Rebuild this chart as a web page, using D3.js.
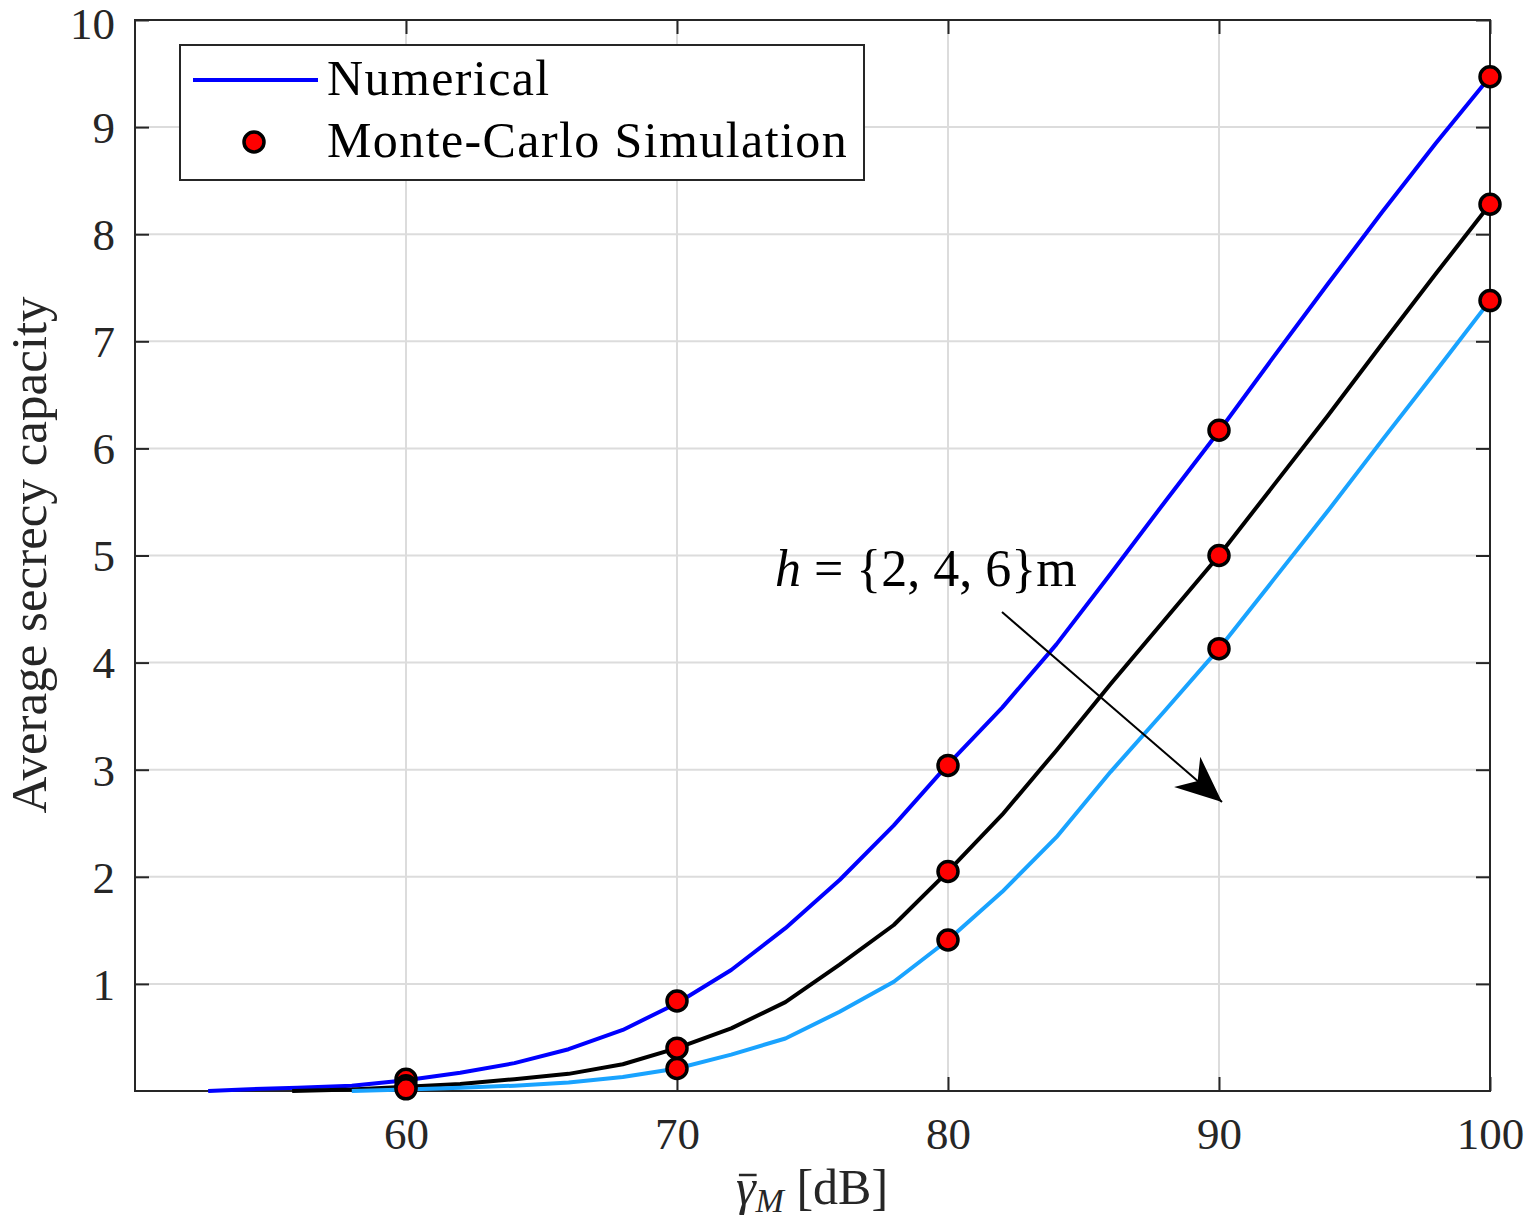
<!DOCTYPE html>
<html lang="en">
<head>
<meta charset="UTF-8" />
<script src="https://d3js.org/d3.v7.min.js"></script>
<title>Average secrecy capacity</title>
<style>
  body { margin: 0; background: #fff; }
  text { font-family: "Liberation Serif", "DejaVu Serif", serif; fill: #262626; }
</style>
</head>
<body>
<script>
  const width = 1526, height = 1228

  // numerical curves (x in dB, y = capacity)
  const xBlue = [52.7, 54, 56, 58, 60, 62, 64, 66, 68, 70, 72, 74, 76, 78, 80, 82, 84, 86, 88, 90, 92, 94, 96, 98, 100]
  const yBlue = [0.0, 0.015, 0.03, 0.05, 0.1, 0.17, 0.26, 0.39, 0.57, 0.82, 1.13, 1.52, 1.97, 2.48, 3.05, 3.58, 4.17, 4.83, 5.5, 6.16, 6.85, 7.53, 8.2, 8.85, 9.47]
  const xBlack = [55.8, 58, 60, 62, 64, 66, 68, 70, 72, 74, 76, 78, 80, 82, 84, 86, 88, 90, 92, 94, 96, 98, 100]
  const yBlack = [0.0, 0.015, 0.04, 0.065, 0.11, 0.16, 0.25, 0.4, 0.585, 0.83, 1.18, 1.55, 2.05, 2.58, 3.18, 3.8, 4.4, 5.0, 5.65, 6.3, 6.97, 7.63, 8.28]
  const xLight = [58, 60, 62, 64, 66, 68, 70, 72, 74, 76, 78, 80, 82, 84, 86, 88, 90, 92, 94, 96, 98, 100]
  const yLight = [0.0, 0.015, 0.03, 0.05, 0.08, 0.13, 0.21, 0.34, 0.49, 0.74, 1.02, 1.41, 1.86, 2.37, 2.98, 3.55, 4.13, 4.77, 5.41, 6.07, 6.72, 7.38]

  // Monte-Carlo points
  const xSim = [60, 70, 80, 90, 100]
  const simBlue = [0.11, 0.84, 3.04, 6.17, 9.47]
  const simBlack = [0.05, 0.4, 2.05, 5.0, 8.28]
  const simLight = [0.02, 0.21, 1.41, 4.13, 7.38]

  const xTicks = [60, 70, 80, 90, 100]
  const yTicks = [1, 2, 3, 4, 5, 6, 7, 8, 9, 10]

  const series = [
    { xs: xBlue, ys: yBlue, sim: simBlue, color: '#0000ff' },
    { xs: xBlack, ys: yBlack, sim: simBlack, color: '#000000' },
    { xs: xLight, ys: yLight, sim: simLight, color: '#19a3ff' }
  ]

  const pLeft = 135, pRight = 1490, pTop = 20, pBottom = 1091

  const svg = d3.select('body').append('svg').attr('width', width).attr('height', height)

  const x = d3.scaleLinear().domain([50, 100]).range([pLeft, pRight])
  const y = d3.scaleLinear().domain([0, 10]).range([pBottom, pTop])

  // grid
  svg.append('g').selectAll('line').data(xTicks.filter(d => d < 100)).enter()
    .append('line')
    .attr('x1', d => x(d)).attr('x2', d => x(d))
    .attr('y1', pTop).attr('y2', pBottom)
    .attr('stroke', '#dcdcdc').attr('stroke-width', 2)
  svg.append('g').selectAll('line').data(yTicks.filter(d => d < 10)).enter()
    .append('line')
    .attr('y1', d => y(d)).attr('y2', d => y(d))
    .attr('x1', pLeft).attr('x2', pRight)
    .attr('stroke', '#dcdcdc').attr('stroke-width', 2)

  // axes (ticks inward, box on)
  const tickLen = 14
  const axisColor = '#262626'
  const fontSize = 45

  const gx = svg.append('g').attr('transform', `translate(0,${pBottom})`)
    .call(d3.axisBottom(x).tickValues(xTicks).tickSize(-tickLen).tickPadding(26))
  const gxTop = svg.append('g').attr('transform', `translate(0,${pTop})`)
    .call(d3.axisTop(x).tickValues(xTicks).tickSize(-tickLen).tickFormat(''))
  const gy = svg.append('g').attr('transform', `translate(${pLeft},0)`)
    .call(d3.axisLeft(y).tickValues(yTicks).tickSize(-tickLen).tickPadding(20))
  const gyRight = svg.append('g').attr('transform', `translate(${pRight},0)`)
    .call(d3.axisRight(y).tickValues(yTicks).tickSize(-tickLen).tickFormat(''))

  ;[gx, gxTop, gy, gyRight].forEach(g => {
    g.select('.domain').remove()
    g.selectAll('.tick line').attr('stroke', axisColor).attr('stroke-width', 2)
    g.selectAll('.tick text')
      .style('font-family', '"Liberation Serif", serif')
      .style('font-size', fontSize + 'px')
      .attr('fill', axisColor)
  })
  gx.selectAll('.tick text').attr('dy', '0.71em')
  gy.selectAll('.tick text').attr('dy', d => d === 10 ? '0.42em' : '0.34em')

  svg.append('rect')
    .attr('x', pLeft).attr('y', pTop)
    .attr('width', pRight - pLeft).attr('height', pBottom - pTop)
    .attr('fill', 'none').attr('stroke', axisColor).attr('stroke-width', 2)

  // curves
  const line = d3.line().x(d => x(d[0])).y(d => y(d[1]))
  series.forEach(s => {
    svg.append('path')
      .datum(s.xs.map((v, i) => [v, s.ys[i]]))
      .attr('d', line)
      .attr('fill', 'none')
      .attr('stroke', s.color)
      .attr('stroke-width', 4)
      .attr('stroke-linejoin', 'round')
  })

  // simulation markers
  series.forEach(s => {
    svg.append('g').selectAll('circle').data(xSim).enter()
      .append('circle')
      .attr('cx', d => x(d))
      .attr('cy', (d, i) => y(s.sim[i]))
      .attr('r', 10)
      .attr('fill', '#ff0000')
      .attr('stroke', '#000')
      .attr('stroke-width', 3.5)
  })

  // annotation arrow
  const tail = [1002, 612], tip = [1222, 802]
  svg.append('line')
    .attr('x1', tail[0]).attr('y1', tail[1]).attr('x2', tip[0]).attr('y2', tip[1])
    .attr('stroke', '#000').attr('stroke-width', 2)

  const ang = Math.atan2(tip[1] - tail[1], tip[0] - tail[0])
  const ah = 46, aw = 20
  const back = [tip[0] - ah * Math.cos(ang), tip[1] - ah * Math.sin(ang)]
  const notch = [tip[0] - ah * 0.7 * Math.cos(ang), tip[1] - ah * 0.7 * Math.sin(ang)]
  const nx = -Math.sin(ang), ny = Math.cos(ang)
  svg.append('path')
    .attr('d', `M${tip} L${back[0] + nx * aw},${back[1] + ny * aw} L${notch} L${back[0] - nx * aw},${back[1] - ny * aw} Z`)
    .attr('fill', '#000')

  const ann = svg.append('text')
    .attr('x', 775).attr('y', 586)
    .style('font-size', '52px').style('fill', '#000')
  ann.append('tspan').attr('font-style', 'italic').text('h')
  ann.append('tspan').text(' = {2, 4, 6}m')

  // axis labels
  const xlBase = 1204
  const xl = svg.append('text')
    .attr('x', 812).attr('y', xlBase)
    .attr('text-anchor', 'middle')
    .style('font-size', '50px')
  xl.append('tspan').attr('font-style', 'italic').text('γ')
  xl.append('tspan').attr('font-style', 'italic').attr('dy', 8).style('font-size', '34px').text('M')
  xl.append('tspan').attr('dy', -8).text(' [dB]')
  // bar over gamma
  const g0 = xl.node().getExtentOfChar(0)
  svg.append('line')
    .attr('x1', g0.x + 3).attr('x2', g0.x + g0.width + 1)
    .attr('y1', xlBase - 29).attr('y2', xlBase - 29)
    .attr('stroke', axisColor).attr('stroke-width', 2.5)

  svg.append('text')
    .attr('transform', `translate(46,555) rotate(-90)`)
    .attr('text-anchor', 'middle')
    .style('font-size', '51px')
    .text('Average secrecy capacity')

  // legend
  const lg = svg.append('g')
  lg.append('rect')
    .attr('x', 180).attr('y', 45).attr('width', 684).attr('height', 135)
    .attr('fill', '#fff').attr('stroke', axisColor).attr('stroke-width', 2)
  lg.append('line')
    .attr('x1', 193).attr('x2', 318).attr('y1', 80).attr('y2', 80)
    .attr('stroke', '#0000ff').attr('stroke-width', 4)
  lg.append('text').attr('x', 327).attr('y', 95).style('font-size', '50px').style('letter-spacing', '1.4px').style('fill', '#000').text('Numerical')
  lg.append('circle')
    .attr('cx', 254).attr('cy', 142).attr('r', 10)
    .attr('fill', '#ff0000').attr('stroke', '#000').attr('stroke-width', 3.5)
  lg.append('text').attr('x', 327).attr('y', 157).style('font-size', '50px').style('letter-spacing', '1.4px').style('fill', '#000').text('Monte-Carlo Simulation')
</script>
</body>
</html>
